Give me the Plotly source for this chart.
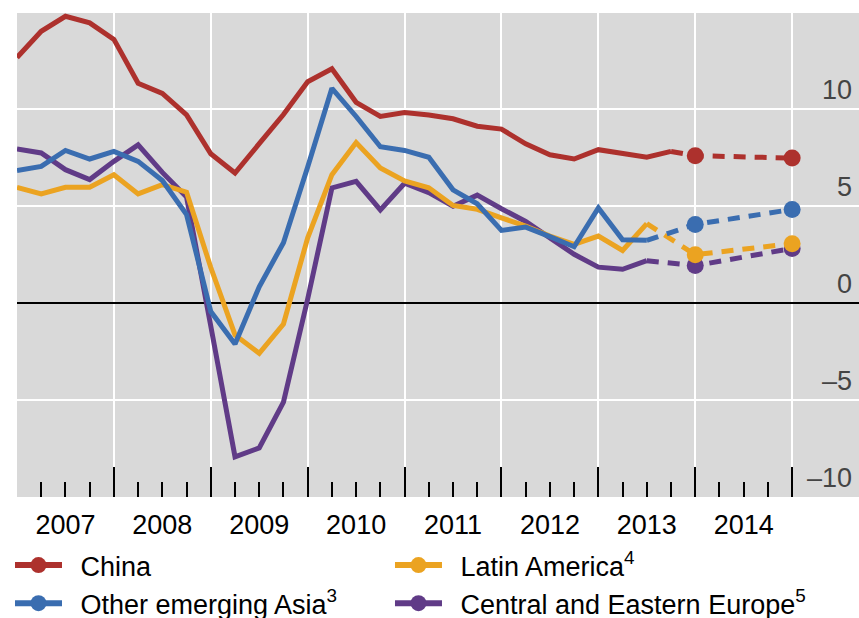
import plotly.graph_objects as go

# ---- data -------------------------------------------------------------
quarters_start = 2007  # first quarter 2007Q1
china = [12.64, 13.99, 14.76, 14.42, 13.57, 11.31, 10.79, 9.68, 7.68, 6.69,
         8.2, 9.7, 11.39, 12.06, 10.33, 9.6, 9.8, 9.68, 9.48, 9.1,
         8.95, 8.19, 7.63, 7.41, 7.89, 7.68, 7.5, 7.8]
other_asia = [6.82, 7.03, 7.85, 7.41, 7.80, 7.29, 6.3, 4.55, -0.45, -2.12,
              0.83, 3.1, 7.0, 11.05, 9.6, 8.04, 7.85, 7.5, 5.82, 5.1,
              3.73, 3.9, 3.41, 2.89, 4.89, 3.25, 3.22]
latin_america = [5.95, 5.61, 5.95, 5.95, 6.60, 5.61, 6.09, 5.70, 1.82, -1.65,
                 -2.6, -1.09, 3.35, 6.60, 8.26, 6.95, 6.28, 5.93, 5.02, 4.82,
                 4.38, 3.95, 3.44, 3.01, 3.44, 2.70, 4.08]
cee = [7.92, 7.72, 6.86, 6.35, 7.29, 8.14, 6.72, 5.45, -1.2, -7.93,
       -7.47, -5.11, 0.2, 5.92, 6.26, 4.79, 6.16, 5.68, 4.98, 5.55,
       4.85, 4.19, 3.35, 2.50, 1.84, 1.73, 2.17]

forecast_x = [2014.0, 2015.0]
china_fc = [7.58, 7.46]
other_asia_fc = [4.04, 4.81]
latin_america_fc = [2.48, 3.05]
cee_fc = [1.92, 2.80]

year_labels = ["2007", "2008", "2009", "2010", "2011", "2012", "2013", "2014"]
y_ticks = [-10, -5, 0, 5, 10]
y_ticktext = ["\u201310", "\u20135", "0", "5", "10"]

# name, values, forecast, colour, legend column
series = [
    ("China", china, china_fc, "#AD312D", "legend"),
    ("Latin America<sup>4</sup>", latin_america, latin_america_fc, "#EBA321", "legend2"),
    ("Other emerging Asia<sup>3</sup>", other_asia, other_asia_fc, "#3A6DB0", "legend"),
    ("Central and Eastern Europe<sup>5</sup>", cee, cee_fc, "#603B87", "legend2"),
]

FONT = "Liberation Sans, Arial, sans-serif"

def qx(n):
    return [quarters_start + i * 0.25 for i in range(n)]

fig = go.Figure()

draw_order = [3, 1, 2, 0]  # purple bottom, red on top
for k in draw_order:
    name, vals, fc, col, _ = series[k]
    xs = qx(len(vals))
    fig.add_trace(go.Scatter(x=xs, y=vals, mode="lines",
                             line=dict(color=col, width=5),
                             showlegend=False, hoverinfo="skip"))
    fig.add_trace(go.Scatter(x=[xs[-1]] + forecast_x, y=[vals[-1]] + fc,
                             mode="lines", line=dict(color=col, width=5, dash="12px,9px"),
                             showlegend=False, hoverinfo="skip"))
    fig.add_trace(go.Scatter(x=forecast_x, y=fc, mode="markers",
                             marker=dict(color=col, size=17),
                             showlegend=False, hoverinfo="skip"))

# legend entries
for name, vals, fc, col, leg in series:
    fig.add_trace(go.Scatter(x=[None], y=[None], mode="lines+markers",
                             name="\u2002" + name, legend=leg,
                             line=dict(color=col, width=6),
                             marker=dict(color=col, size=16)))

# helper trace for the label axis
fig.add_trace(go.Scatter(x=[2007.5], y=[None], xaxis="x2", mode="lines",
                         showlegend=False, hoverinfo="skip"))

x_range = [2007, 2015.69]
legend_common = dict(
    orientation="v", xref="container", yref="container",
    y=0.1246, xanchor="left", yanchor="top",
    font=dict(size=27), itemwidth=47, tracegroupgap=0,
    bgcolor="rgba(0,0,0,0)", borderwidth=0, traceorder="normal",
)
fig.update_layout(
    template="none",
    width=859, height=618,
    margin=dict(l=17, r=0, t=13, b=121, autoexpand=False),
    paper_bgcolor="white",
    plot_bgcolor="#D9D9D9",
    font=dict(family=FONT, size=27, color="black"),
    xaxis=dict(
        range=x_range, tickmode="array", tickvals=list(range(2007, 2016)),
        showticklabels=False, ticks="inside", ticklen=30, tickwidth=2, tickcolor="black",
        showgrid=True, gridcolor="white", gridwidth=2, zeroline=False, showline=False,
        automargin=False,
        minor=dict(dtick=0.25, tick0=2007, ticks="inside", ticklen=15, tickwidth=2,
                   tickcolor="black", showgrid=False),
    ),
    xaxis2=dict(
        range=x_range, overlaying="x", anchor="y", side="bottom",
        tickmode="array", tickvals=[int(y) + 0.5 for y in year_labels], ticktext=year_labels,
        ticks="", showgrid=False, zeroline=False, showline=False, automargin=False,
        tickfont=dict(size=27), ticklabelstandoff=9,
    ),
    yaxis=dict(
        range=[-10, 14.93], side="right", tickmode="array", tickvals=y_ticks,
        ticktext=y_ticktext, ticklabelposition="inside", ticks="",
        ticklabelshift=-19, ticklabelstandoff=4, automargin=False,
        showgrid=True, gridcolor="white", gridwidth=2,
        zeroline=True, zerolinecolor="black", zerolinewidth=2, showline=False,
        tickfont=dict(size=27),
    ),
    legend=dict(x=0.01164, **legend_common),
    legend2=dict(x=0.4540, **legend_common),
    showlegend=True,
)

fig.write_html("out.html",
               config={"displayModeBar": False},
               post_script="document.body.style.margin='0px';"
                           "document.body.style.overflow='hidden';")
